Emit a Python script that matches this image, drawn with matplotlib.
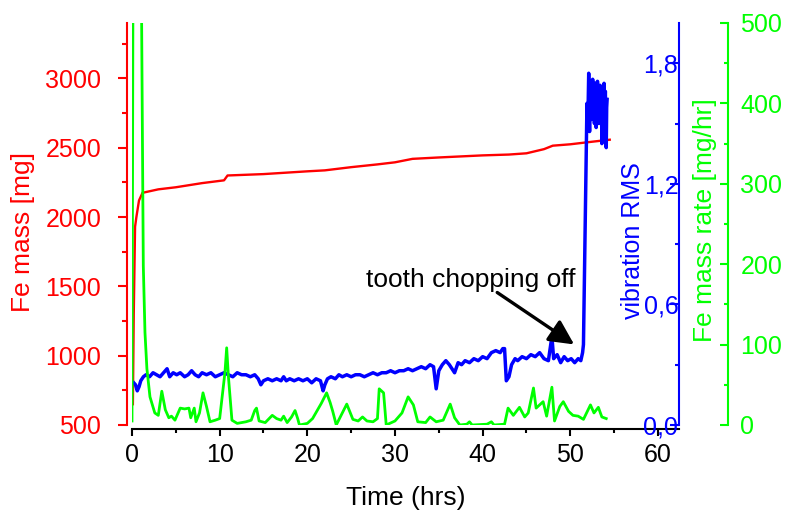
import matplotlib
matplotlib.use("Agg")
import matplotlib.pyplot as plt
from matplotlib.ticker import MultipleLocator, FixedLocator, FuncFormatter

plt.rcParams['font.family'] = ['Liberation Sans', 'DejaVu Sans']

# ---------------- data ----------------
red_t = [0.1, 0.2, 0.35, 0.5, 0.8, 1.2, 3, 5, 8, 10.5, 10.9, 15, 20, 22, 25, 28, 30, 32,
         35, 40, 43, 45, 47, 48, 50, 52, 54.5]
red_v = [650, 1300, 1930, 2000, 2120, 2175, 2200, 2215, 2245, 2265, 2300, 2310, 2330, 2337,
         2360, 2380, 2395, 2420, 2430, 2445, 2451, 2460, 2490, 2515, 2525, 2540, 2558]

blue_t = [0.2, 0.4, 0.6, 0.8, 1.0, 1.3, 1.6, 2.0, 2.4, 2.8, 3.2, 3.6, 4.0, 4.3, 4.7, 5.1, 5.5,
          6.0, 6.4, 6.8, 7.2, 7.6, 8.0, 8.5, 9.0, 9.5, 10.0, 10.5, 11.0, 11.5, 12.0, 12.5,
          13.0, 13.5, 14.0, 14.4, 14.7, 15.0, 15.5, 16.0, 16.5, 17.0, 17.3, 17.6, 18.0, 18.5,
          19.0, 19.5, 20.0, 20.5, 21.0, 21.5, 21.8, 22.0, 22.3, 22.7, 23.2, 23.6, 24.0, 24.5,
          25.0, 25.5, 26.0, 26.5, 27.0, 27.5, 28.0, 28.5, 29.0, 29.5, 30.0, 30.5, 31.0, 31.5,
          32.0, 32.5, 33.0, 33.5, 34.0, 34.4, 34.7, 35.0, 35.4, 35.8, 36.2, 36.8, 37.2, 37.6,
          38.0, 38.5, 39.0, 39.5, 40.0, 40.5, 41.0, 41.5, 42.0, 42.3, 42.5, 42.7, 43.0, 43.3,
          43.7, 44.0, 44.5, 45.0, 45.5, 46.0, 46.5, 47.0, 47.5, 47.9, 48.1, 48.5, 48.9, 49.3,
          49.7, 50.1, 50.5, 50.9, 51.2, 51.4, 51.5, 51.7, 51.9,
          52.0, 52.05, 52.1, 52.15, 52.2, 52.25, 52.3, 52.35, 52.4, 52.45, 52.5, 52.55, 52.6,
          52.65, 52.7, 52.75, 52.8, 52.85, 52.9, 52.95, 53.0, 53.05, 53.1, 53.15, 53.2, 53.25,
          53.3, 53.35, 53.4, 53.45, 53.5, 53.55, 53.6, 53.65, 53.7, 53.75, 53.8, 53.85, 53.9,
          53.95, 54.0, 54.05, 54.1, 54.15, 54.2]
blue_v = [0.21, 0.20, 0.17, 0.19, 0.22, 0.24, 0.25, 0.24, 0.26, 0.25, 0.24, 0.26, 0.28, 0.24,
          0.26, 0.25, 0.26, 0.24, 0.25, 0.27, 0.25, 0.24, 0.26, 0.25, 0.26, 0.24, 0.25, 0.26,
          0.25, 0.24, 0.26, 0.25, 0.25, 0.24, 0.25, 0.23, 0.20, 0.22, 0.23, 0.22, 0.23, 0.22,
          0.24, 0.22, 0.23, 0.22, 0.23, 0.22, 0.23, 0.21, 0.23, 0.22, 0.17, 0.20, 0.23, 0.24,
          0.23, 0.25, 0.24, 0.25, 0.24, 0.25, 0.25, 0.24, 0.25, 0.26, 0.25, 0.26, 0.26, 0.27,
          0.26, 0.27, 0.27, 0.28, 0.27, 0.28, 0.29, 0.28, 0.30, 0.29, 0.18, 0.27, 0.30, 0.32,
          0.30, 0.26, 0.31, 0.30, 0.32, 0.31, 0.33, 0.32, 0.34, 0.33, 0.36, 0.37, 0.36, 0.38,
          0.38, 0.22, 0.24, 0.30, 0.33, 0.32, 0.34, 0.33, 0.35, 0.34, 0.36, 0.33, 0.32, 0.44,
          0.33, 0.35, 0.31, 0.34, 0.32, 0.33, 0.31, 0.33, 0.32, 0.36, 0.40, 1.00, 1.60,
          1.50, 1.62, 1.75, 1.58, 1.46, 1.66, 1.55, 1.70, 1.52, 1.64, 1.58, 1.72, 1.60,
          1.54, 1.68, 1.50, 1.62, 1.70, 1.56, 1.48, 1.64, 1.58, 1.71, 1.55, 1.62, 1.50,
          1.66, 1.57, 1.69, 1.53, 1.61, 1.67, 1.40, 1.58, 1.65, 1.52, 1.63, 1.70, 1.55,
          1.60, 1.66, 1.52, 1.38, 1.58, 1.62]

green_t = [0.0, 0.12, 1.05, 1.1, 1.29, 1.48, 1.7, 2.05, 2.6, 3.0, 3.4, 3.8, 4.2, 4.5, 4.9, 5.5,
           6.0, 6.5, 6.7, 7.1, 7.3, 7.7, 8.1, 8.5, 8.9, 9.5, 10.0, 10.2, 10.6, 10.8, 11.0, 11.4,
           12.0, 13.0, 13.6, 14.0, 14.2, 14.5, 15.2, 16.0, 16.5, 17.0, 17.3, 17.7, 18.2, 18.6,
           18.9, 19.1, 20.0, 20.6, 21.6, 22.2, 22.6, 22.9, 23.3, 24.5, 25.2, 25.8, 26.3, 26.8,
           27.5, 28.0, 28.2, 28.7, 29.0, 30.0, 30.8, 31.5, 32.1, 32.6, 33.5, 34.0, 34.7, 35.5,
           36.3, 36.8, 37.4, 38.2, 38.5, 38.8, 40.5, 41.0, 41.3, 42.5, 42.9, 43.5, 44.2, 44.8,
           45.2, 45.8, 46.1, 46.9, 47.3, 47.9, 48.2, 48.8, 49.2, 49.8, 50.3, 50.9, 51.5, 52.3,
           52.7, 53.2, 53.6, 54.1]
green_v = [5, 600, 600, 500, 198, 115, 70, 35, 15, 12, 42, 19, 9, 11, 6, 21,
           20, 21, 9, 21, 4, 15, 40, 23, 4, 6, 8, 27, 65, 96, 60, 6,
           2, 4, 6, 18, 21, 5, 3, 12, 8, 6, 11, 3, 10, 18,
           8, 0, 2, 8, 27, 40, 28, 17, 0, 26, 7, 5, 10, 5,
           4, 8, 45, 40, 0, 5, 15, 35, 25, 4, 3, 10, 4, 6,
           26, 9, 0, 1, 4, 0, 1, 4, 0, 1, 21, 12, 22, 10,
           15, 46, 21, 29, 11, 47, 5, 23, 29, 17, 12, 11, 7, 25,
           15, 22, 10, 8]

red_ticks = [500, 1000, 1500, 2000, 2500, 3000]
blue_ticks = [0.0, 0.6, 1.2, 1.8]
green_ticks = [0, 100, 200, 300, 400, 500]
x_ticks = [0, 10, 20, 30, 40, 50, 60]

RED, BLUE, GREEN = '#ff0000', '#0000ff', '#00ff00'
W, H = 788, 512
px = 0.72  # points per pixel at dpi 100

fig = plt.figure(figsize=(W / 100, H / 100), dpi=100)
ax = fig.add_axes([132 / W, 87 / H, 547 / W, 402 / H])
ax.patch.set_alpha(0)

# ---- red axis (main) ----
ax.plot(red_t, red_v, color=RED, lw=1.7, zorder=2)
ax.set_xlim(0, 62.4)
ax.set_ylim(500, 3400)
for s in ['top', 'right']:
    ax.spines[s].set_visible(False)
ax.spines['left'].set_color(RED)
ax.spines['left'].set_linewidth(1.5)
ax.spines['left'].set_position(('outward', 5 * px))
ax.spines['bottom'].set_color('black')
ax.spines['bottom'].set_linewidth(1.5)
ax.spines['bottom'].set_position(('outward', 4 * px))
ax.yaxis.set_major_locator(FixedLocator(red_ticks))
ax.yaxis.set_minor_locator(MultipleLocator(250))
ax.tick_params(axis='y', which='major', colors=RED, labelsize=18, length=9 * px, width=1.5,
               direction='out', pad=12)
ax.tick_params(axis='y', which='minor', colors=RED, length=5 * px, width=1.5, direction='out')
ax.xaxis.set_major_locator(FixedLocator(x_ticks))
ax.xaxis.set_minor_locator(MultipleLocator(5))
ax.tick_params(axis='x', which='major', colors='black', labelsize=18, length=7 * px, width=1.5,
               direction='out', pad=5)
ax.tick_params(axis='x', which='minor', length=4 * px, width=1.5, direction='out')

# ---- blue axis ----
axb = ax.twinx()
axb.patch.set_alpha(0)
axb.plot(blue_t, blue_v, color=BLUE, lw=2.5, zorder=3)
axb.set_ylim(0, 2.0)
for s in ['top', 'right', 'bottom']:
    axb.spines[s].set_visible(False)
axb.spines['left'].set_visible(True)
axb.spines['left'].set_position(('axes', 1.0))
axb.spines['left'].set_color(BLUE)
axb.spines['left'].set_linewidth(1.5)
axb.yaxis.tick_left()
axb.yaxis.set_major_locator(FixedLocator(blue_ticks))
axb.yaxis.set_minor_locator(MultipleLocator(0.3))
axb.yaxis.set_major_formatter(FuncFormatter(lambda v, p: f"{v:.1f}".replace('.', ',')))
axb.tick_params(axis='y', which='major', colors=BLUE, labelsize=18, length=9 * px, width=1.5,
                direction='out', pad=-6)
axb.tick_params(axis='y', which='minor', colors=BLUE, length=4 * px, width=1.5, direction='out')

axb.annotate('', xy=(50.7, 0.393), xytext=(41.4, 0.667),
             arrowprops=dict(arrowstyle='-|>,head_length=0.5,head_width=0.25',
                             color='black', lw=2.4, mutation_scale=30))

# ---- green axis ----
axg = ax.twinx()
axg.patch.set_alpha(0)
axg.plot(green_t, green_v, color=GREEN, lw=2.0, zorder=4)
axg.set_ylim(0, 500)
for s in ['top', 'left', 'bottom']:
    axg.spines[s].set_visible(False)
axg.spines['right'].set_position(('axes', (728 - 132) / 547))
axg.spines['right'].set_color(GREEN)
axg.spines['right'].set_linewidth(1.5)
axg.yaxis.set_major_locator(FixedLocator(green_ticks))
axg.yaxis.set_minor_locator(MultipleLocator(50))
axg.tick_params(axis='y', which='major', colors=GREEN, labelsize=18, length=8 * px, width=1.5,
                direction='in', pad=9)
axg.tick_params(axis='y', which='minor', colors=GREEN, length=4 * px, width=1.5, direction='in')

# ---- labels ----
def ft(x, y, s, **kw):
    fig.text(x / W, 1 - y / H, s, ha='center', va='center', **kw)

ft(23, 232, 'Fe mass [mg]', color=RED, rotation=90, fontsize=19)
ft(406, 498, 'Time (hrs)', color='black', fontsize=19)
ft(633, 241, 'vibration RMS', color=BLUE, rotation=90, fontsize=18)
ft(705, 220, 'Fe mass rate [mg/hr]', color=GREEN, rotation=90, fontsize=19)
ft(471, 280, 'tooth chopping off', color='black', fontsize=19)

fig.savefig('out.png', dpi=100)
